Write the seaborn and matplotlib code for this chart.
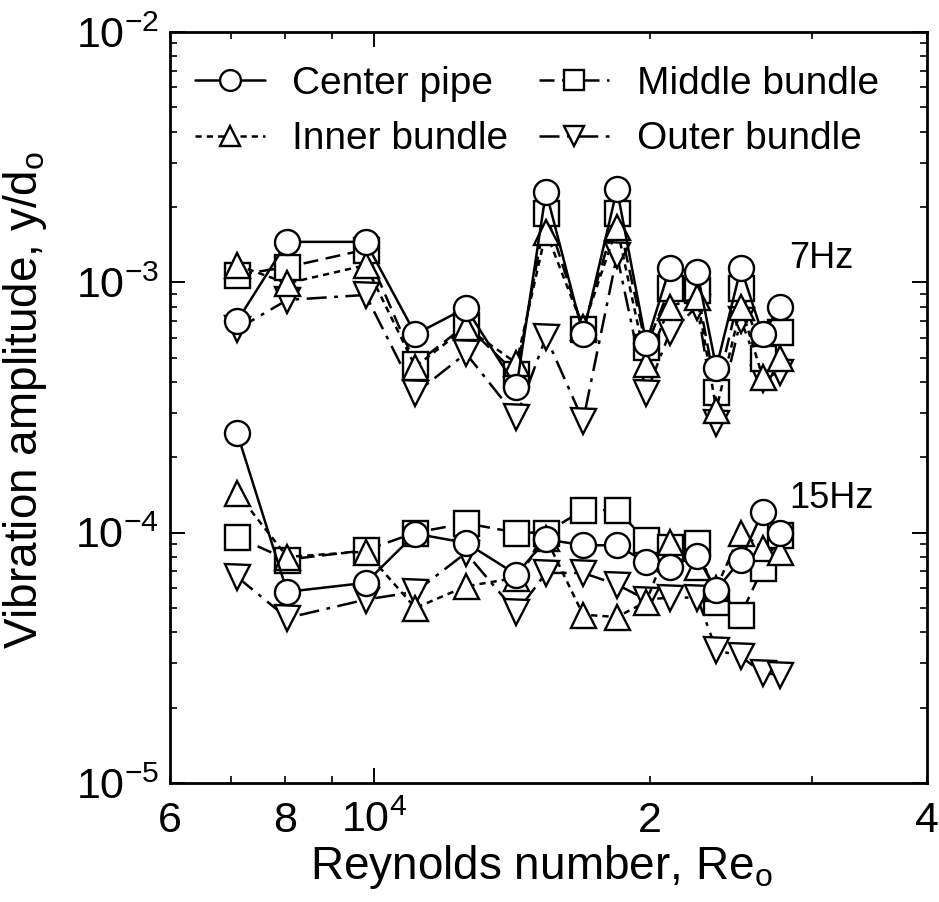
import numpy as np
import pandas as pd
import matplotlib
matplotlib.use("Agg")
import matplotlib.pyplot as plt
from matplotlib.lines import Line2D
from matplotlib.ticker import FixedLocator, FixedFormatter, LogLocator, NullFormatter
import seaborn as sns

# Reynolds numbers of the test runs
reynolds = [7100, 8050, 9800, 11100, 12600, 14300, 15400, 16900,
            18400, 19800, 21000, 22500, 23600, 25100, 26500, 27700]

# Vibration amplitude y/d_o at 7 Hz
center_7hz = [7.0e-4, 1.45e-3, 1.45e-3, 6.2e-4, 7.9e-4, 3.8e-4, 2.3e-3, 6.2e-4,
              2.35e-3, 5.7e-4, 1.14e-3, 1.1e-3, 4.55e-4, 1.14e-3, 6.2e-4, 8.0e-4]
middle_7hz = [1.07e-3, 1.15e-3, 1.35e-3, 4.7e-4, 6.75e-4, 4.3e-4, 1.89e-3, 6.5e-4,
              1.89e-3, 5.5e-4, 9.5e-4, 9.3e-4, 3.65e-4, 9.5e-4, 5.0e-4, 6.3e-4]
inner_7hz = [1.17e-3, 9.9e-4, 1.17e-3, 4.6e-4, 6.6e-4, 4.75e-4, 1.59e-3, 6.6e-4,
             1.66e-3, 4.7e-4, 8.0e-4, 8.7e-4, 3.1e-4, 8.0e-4, 4.2e-4, 5.0e-4]
outer_7hz = [6.5e-4, 8.5e-4, 8.9e-4, 3.6e-4, 5.2e-4, 2.9e-4, 6.05e-4, 2.8e-4,
             1.28e-3, 3.6e-4, 6.3e-4, 8.0e-4, 2.74e-4, 7.1e-4, 4.1e-4, 4.4e-4]

# Vibration amplitude y/d_o at 15 Hz
center_15hz = [2.5e-4, 5.8e-5, 6.3e-5, 9.9e-5, 9.1e-5, 6.8e-5, 9.4e-5, 8.9e-5,
               8.9e-5, 7.6e-5, 7.3e-5, 8.1e-5, 5.9e-5, 7.8e-5, 1.21e-4, 9.95e-5]
middle_15hz = [9.6e-5, 7.8e-5, 8.5e-5, 1.0e-4, 1.09e-4, 1.0e-4, 1.0e-4, 1.23e-4,
               1.23e-4, 9.3e-5, 8.75e-5, 9.1e-5, 5.3e-5, 4.7e-5, 7.2e-5, 9.8e-5]
inner_15hz = [1.44e-4, 8.0e-5, 8.4e-5, 5.0e-5, 6.1e-5, 6.6e-5, 9.5e-5, 4.7e-5,
              4.6e-5, 5.3e-5, 9.2e-5, 7.3e-5, 6.0e-5, 1.0e-4, 8.7e-5, 8.4e-5]
outer_15hz = [6.65e-5, 4.56e-5, 5.4e-5, 5.8e-5, 8.3e-5, 4.8e-5, 6.9e-5, 6.9e-5,
              6.2e-5, 5.4e-5, 5.5e-5, 5.5e-5, 3.4e-5, 3.2e-5, 2.75e-5, 2.7e-5]

series_names = ["Center pipe", "Inner bundle", "Middle bundle", "Outer bundle"]
values = {
    ("Center pipe", "7Hz"): center_7hz, ("Center pipe", "15Hz"): center_15hz,
    ("Middle bundle", "7Hz"): middle_7hz, ("Middle bundle", "15Hz"): middle_15hz,
    ("Inner bundle", "7Hz"): inner_7hz, ("Inner bundle", "15Hz"): inner_15hz,
    ("Outer bundle", "7Hz"): outer_7hz, ("Outer bundle", "15Hz"): outer_15hz,
}

rows = []
for (name, freq), amps in values.items():
    for re_, amp in zip(reynolds, amps):
        rows.append({"series": name, "freq": freq, "Re": re_, "amp": amp})
df = pd.DataFrame(rows)

sns.set_theme(style="ticks")
plt.rcParams["font.family"] = ["Liberation Sans", "DejaVu Sans"]
plt.rcParams["mathtext.fontset"] = "custom"
plt.rcParams["mathtext.rm"] = "Liberation Sans"
plt.rcParams["mathtext.it"] = "Liberation Sans:italic"
plt.rcParams["mathtext.bf"] = "Liberation Sans:bold"
plt.rcParams["text.color"] = "black"
plt.rcParams["axes.labelcolor"] = "black"
plt.rcParams["xtick.color"] = "black"
plt.rcParams["ytick.color"] = "black"

markers = {"Center pipe": "o", "Middle bundle": "s",
           "Inner bundle": "^", "Outer bundle": "v"}
dashes = {"Center pipe": "", "Middle bundle": (6, 3),
          "Inner bundle": (2.5, 2), "Outer bundle": (8, 3, 1.5, 3)}
palette = {name: "black" for name in series_names}
draw_order = ["Outer bundle", "Middle bundle", "Inner bundle", "Center pipe"]

fig = plt.figure(figsize=(9.39, 9.02), dpi=100)
ax = fig.add_axes([0.181, 0.132, 0.806, 0.8326])

MS, LW, MEW = 18, 1.8, 1.7
sns.lineplot(data=df, x="Re", y="amp", hue="series", style="series",
             units="freq", estimator=None, sort=True,
             hue_order=draw_order, style_order=draw_order,
             markers=markers, dashes=dashes, palette=palette,
             markersize=MS, markerfacecolor="white", markeredgecolor="black",
             markeredgewidth=MEW, linewidth=LW, legend=False, ax=ax)

ax.set_xscale("log")
ax.set_yscale("log")
ax.set_xlim(6000, 40000)
ax.set_ylim(1e-5, 1e-2)

ax.xaxis.set_major_locator(FixedLocator([1e4]))
ax.xaxis.set_major_formatter(FixedFormatter([r"$10^4$"]))
ax.xaxis.set_minor_locator(FixedLocator([6000, 7000, 8000, 9000, 20000, 30000, 40000]))
ax.xaxis.set_minor_formatter(FixedFormatter(["6", "", "8", "", "2", "", "4"]))
ax.yaxis.set_major_locator(LogLocator(base=10, numticks=10))
ax.yaxis.set_minor_locator(LogLocator(base=10, subs=np.arange(2, 10), numticks=20))
ax.yaxis.set_minor_formatter(NullFormatter())

ax.tick_params(which="both", direction="in", top=True, right=True,
               labelsize=31, colors="black")
ax.tick_params(which="major", length=11, width=1.4)
ax.tick_params(which="minor", length=5, width=1.2)
ax.tick_params(axis="x", which="both", pad=13)
ax.tick_params(axis="y", which="both", pad=8)
for sp in ax.spines.values():
    sp.set_linewidth(2)
    sp.set_color("black")

ax.set_xlabel(r"Reynolds number, Re$_\mathrm{o}$", fontsize=33)
ax.set_ylabel(r"Vibration amplitude, y/d$_\mathrm{o}$", fontsize=33)
ax.xaxis.set_label_coords(0.49, -0.08)
ax.yaxis.set_label_coords(-0.16, 0.51)

ax.text(28300, 1.14e-3, "7Hz", fontsize=26, ha="left", va="baseline")
ax.text(28300, 1.25e-4, "15Hz", fontsize=26, ha="left", va="baseline")

handles = []
for name in series_names:
    d = dashes[name]
    kw = dict(linestyle="-") if d == "" else dict(dashes=d)
    handles.append(Line2D([], [], color="black", marker=markers[name],
                          markersize=MS - 3, markerfacecolor="white",
                          markeredgecolor="black", markeredgewidth=MEW,
                          linewidth=LW, **kw))
ax.legend(handles, series_names, ncol=2, loc="upper left",
          bbox_to_anchor=(195 / 939, 1 - 66 / 902), bbox_transform=fig.transFigure,
          frameon=False, fontsize=28, handlelength=1.8, handletextpad=0.7,
          columnspacing=0.8, labelspacing=0.5, borderpad=0, borderaxespad=0)

fig.savefig("out.png", dpi=100)
